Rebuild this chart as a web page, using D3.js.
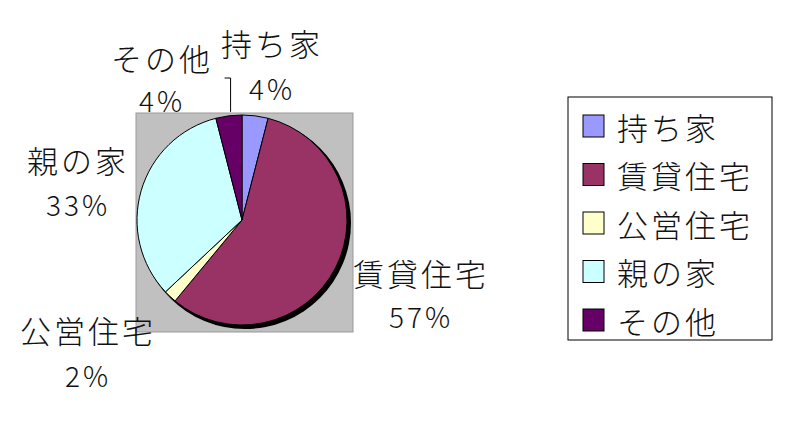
<!DOCTYPE html>
<html>
<head>
<meta charset="utf-8">
<script src="https://cdn.jsdelivr.net/npm/d3@7"></script>
<style>
  body { margin: 0; background: #fff; }
  text { font-family: "Noto Sans CJK JP", sans-serif; font-weight: 300; fill: #111; }
</style>
</head>
<body>
<svg id="chart" width="800" height="428"></svg>
<script>
// data
var categories = ["持ち家", "賃貸住宅", "公営住宅", "親の家", "その他"];
var percents = [4, 57, 2, 33, 4];
var colors = ["#9999ff", "#993366", "#ffffcc", "#ccffff", "#660066"];

// label centres (name line / percent line), roughly where Excel put them
var labelPos = [
    {x: 272, y: 42, py: 88},
    {x: 421, y: 272, py: 316},
    {x: 88, y: 329, py: 375},
    {x: 78, y: 159, py: 204},
    {x: 162, y: 57, py: 100}
];

var svg = d3.select("#chart");
var cx = 242, cy = 220, r = 105;
var fontSize = 31;

// grey plot area
svg.append("rect")
    .attr("x", 136).attr("y", 113)
    .attr("width", 217).attr("height", 219)
    .attr("fill", "#c0c0c0")
    .attr("stroke", "#999").attr("stroke-width", 1);

var pie = d3.pie().sort(null).value(function(d) { return d; });
var arcs = pie(percents);
var arc = d3.arc().innerRadius(0).outerRadius(r);

// shadow
svg.append("circle")
    .attr("cx", cx + 3).attr("cy", cy + 3).attr("r", r + 1)
    .attr("fill", "#000");

var g = svg.append("g").attr("transform", "translate(" + cx + "," + cy + ")");
g.selectAll("path")
    .data(arcs)
    .enter()
    .append("path")
    .attr("d", arc)
    .attr("fill", function(d, i) { return colors[i]; })
    .attr("stroke", "#000")
    .attr("stroke-width", 1);

// data labels
var labels = svg.append("g");
arcs.forEach(function(d, i) {
    var p = labelPos[i];
    labels.append("text")
        .attr("x", p.x).attr("y", p.y)
        .attr("text-anchor", "middle")
        .attr("dominant-baseline", "central")
        .style("font-size", fontSize + "px")
        .style("letter-spacing", "3px")
        .text(categories[i]);
    labels.append("text")
        .attr("x", p.x).attr("y", p.py)
        .attr("text-anchor", "middle")
        .attr("dominant-baseline", "central")
        .style("font-size", (fontSize - 3) + "px")
        .style("letter-spacing", "3px")
        .text(percents[i] + "%");
});

// leader line for その他
var other = arcs[4];
var edge = d3.arc().innerRadius(r + 2).outerRadius(r + 2).centroid(other);
svg.append("polyline")
    .attr("points", [
        [cx + edge[0] + 2, cy + edge[1] - 2],
        [cx + edge[0] + 2, 78],
        [cx + edge[0] - 4, 78]
    ].map(function(p) { return p.join(","); }).join(" "))
    .attr("fill", "none")
    .attr("stroke", "#000")
    .attr("stroke-width", 1);

// legend
var legend = svg.append("g").attr("transform", "translate(568,97)");
legend.append("rect")
    .attr("width", 204).attr("height", 243)
    .attr("fill", "#fff")
    .attr("stroke", "#000").attr("stroke-width", 1);

var rowY = d3.scalePoint().domain(categories).range([29, 223]);
var rows = legend.selectAll("g.row")
    .data(categories)
    .enter()
    .append("g")
    .attr("class", "row")
    .attr("transform", function(d) { return "translate(0," + rowY(d) + ")"; });

rows.append("rect")
    .attr("x", 15).attr("y", -11)
    .attr("width", 21).attr("height", 22)
    .attr("fill", function(d, i) { return colors[i]; })
    .attr("stroke", "#000").attr("stroke-width", 1);

rows.append("text")
    .attr("x", 49).attr("y", 0)
    .attr("dominant-baseline", "central")
    .style("font-size", fontSize + "px")
    .style("letter-spacing", "3px")
    .text(function(d) { return d; });
</script>
</body>
</html>
